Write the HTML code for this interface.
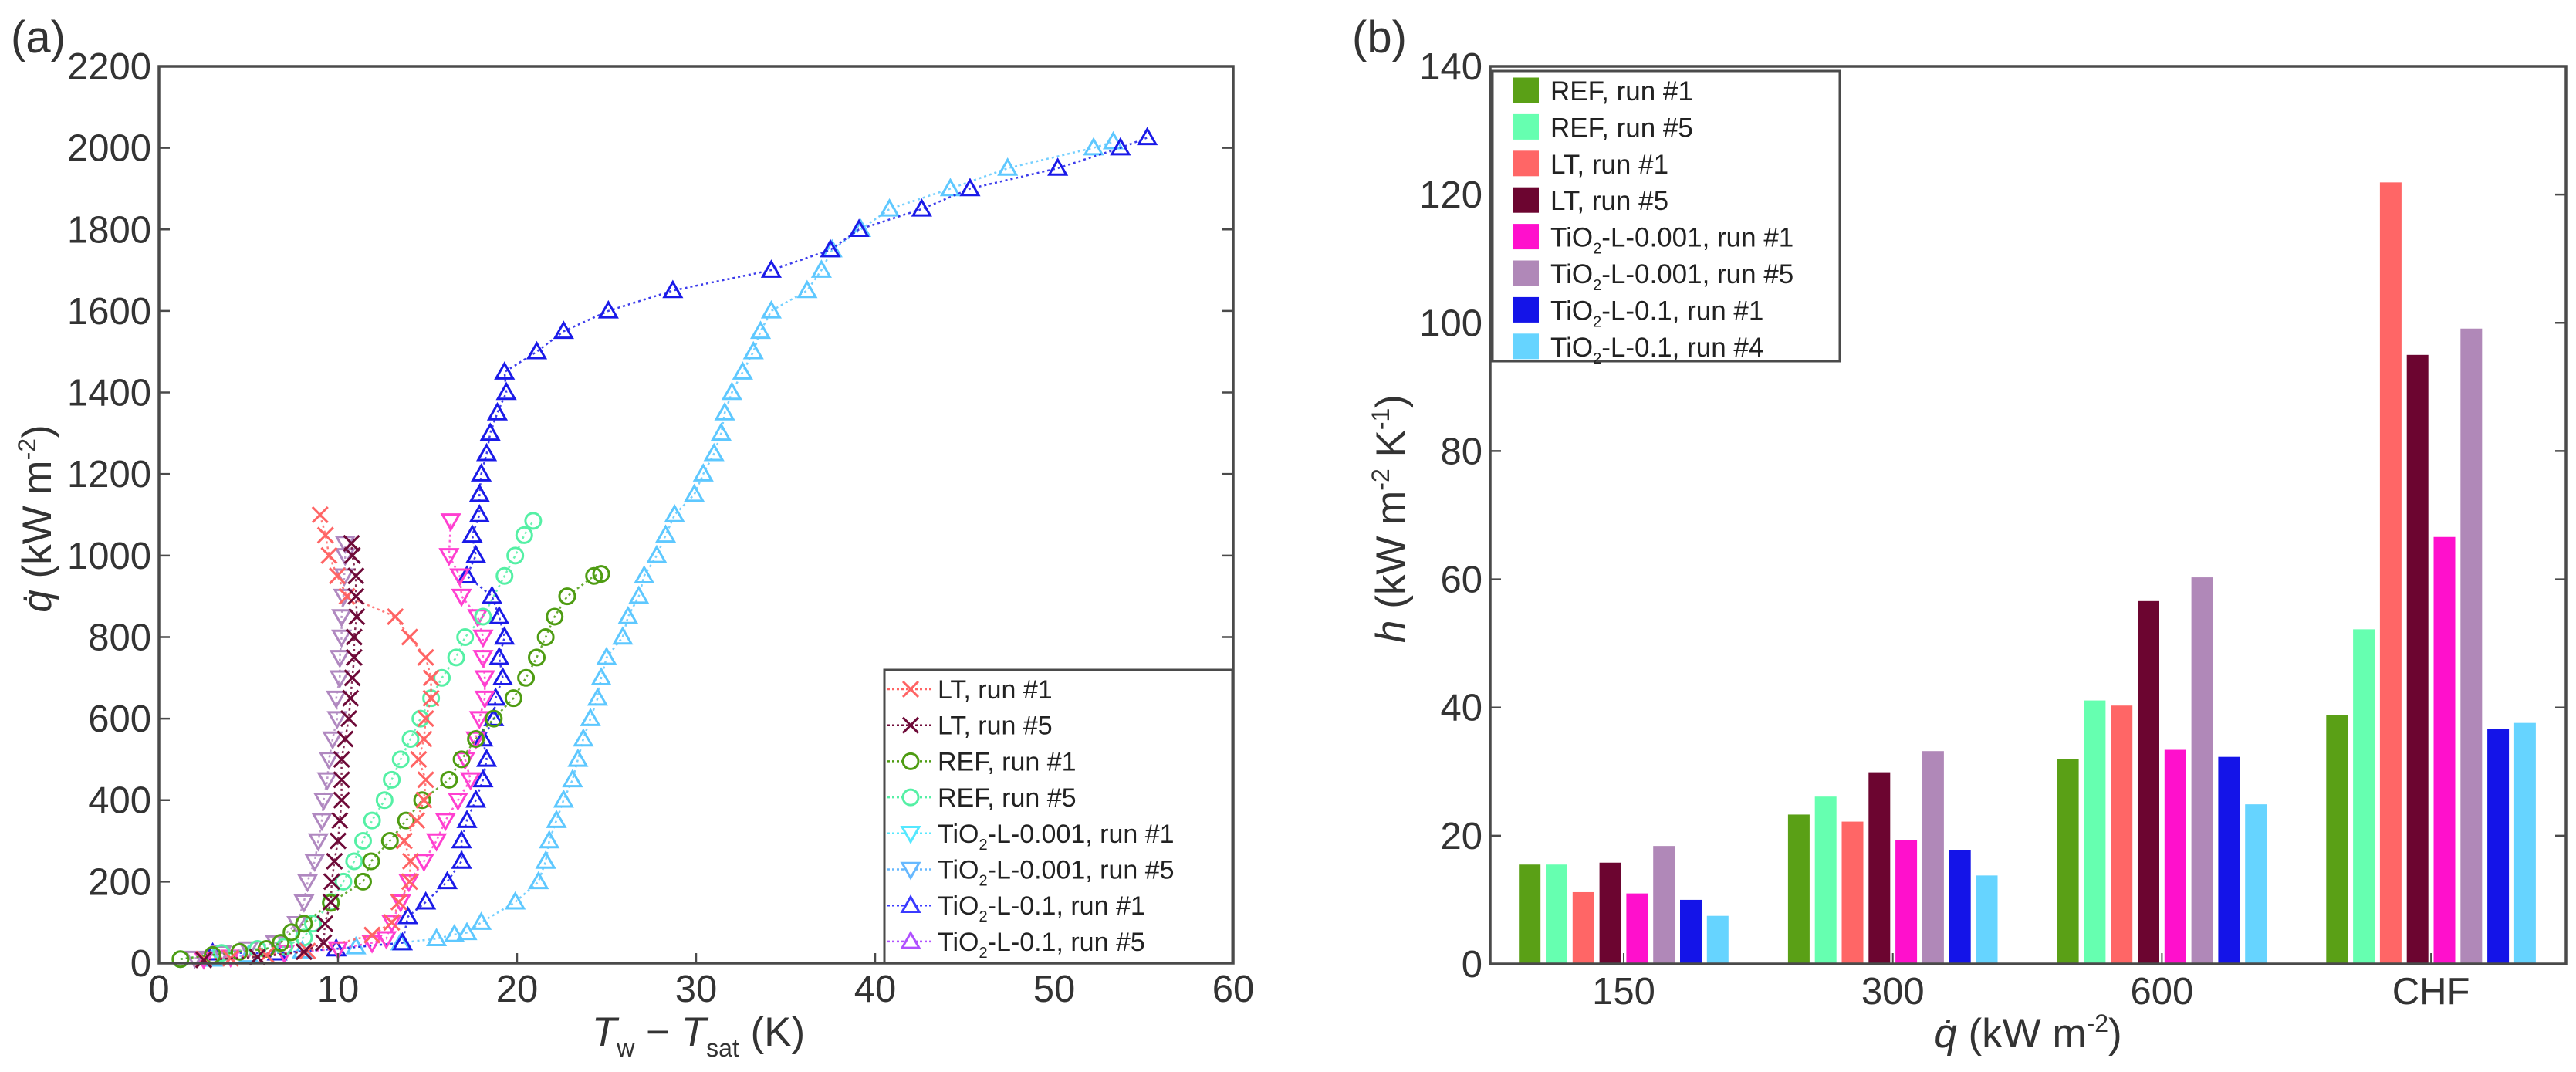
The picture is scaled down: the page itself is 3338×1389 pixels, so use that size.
<!DOCTYPE html>
<html><head><meta charset="utf-8"><style>
html,body{margin:0;padding:0;background:#fff;}
svg{display:block;font-family:"Liberation Sans",Arial,sans-serif;}
</style></head><body>
<svg id="fig" xmlns="http://www.w3.org/2000/svg" width="3338" height="1389" viewBox="0 0 3338 1389">
<rect x="0" y="0" width="3338" height="1389" fill="#fff"/>
<g id="panelA"></g>
<g id="panelB"></g>
</svg>
<script>
// ---------- Panel (a) data ----------
const ltRun1X = [2.5,4,6,8.3,11.9,13.0,13.4,14.0,14.05,13.7,14.4,14.8,14.9,14.5,14.8,14.9,15.2,15.2,14.9,14.0,13.2,10.5,9.96,9.5,9.3,9.0];
const ltRun1Q = [10,12,20,30,69,100,150,200,250,300,350,400,450,500,550,600,650,700,750,800,850,900,950,1000,1050,1100];
const ltRun5X = [2.5,5.5,8.1,9.2,9.27,9.6,9.65,9.8,10.0,10.1,10.2,10.2,10.2,10.4,10.6,10.7,10.8,10.9,10.9,11.05,11.0,11.0,10.8,10.75];
const ltRun5Q = [8,15,28,50,97,150,200,250,300,350,400,450,500,550,600,650,700,750,800,850,900,950,1000,1030];
const refRun1X = [1.2,3,4.5,6,6.8,7.4,8.1,9.6,11.4,11.85,12.9,13.8,14.7,16.2,16.9,17.7,18.7,19.8,20.5,21.1,21.6,22.1,22.8,24.3,24.7];
const refRun1Q = [10,20,28,35,50,76,97,148,200,250,300,350,400,450,500,550,600,650,700,750,800,850,900,950,955];
const refRun5X = [1.2,3.5,5.5,7,8.1,8.6,9.6,10.3,10.9,11.4,11.9,12.6,13.0,13.5,14.05,14.6,15.2,15.8,16.6,17.1,18.1,19.3,19.9,20.4,20.9];
const refRun5Q = [10,25,35,40,63,97,150,200,250,300,350,400,450,500,550,600,650,700,750,800,850,950,1000,1050,1085];
const ti001r1X = [2.5,4,7,10,11.9,12.7,13.0,13.5,13.96,14.8,15.5,16.0,16.7,17.4,17.1,17.7,17.9,18.2,18.2,18.1,18.1,17.8,16.9,16.8,16.2,16.3];
const ti001r1Q = [10,15,25,35,50,60,100,150,200,250,300,350,400,450,500,550,600,650,700,750,800,850,900,950,1000,1085];
const ti001r5X = [2,3.5,5,6.5,7.7,8.1,8.3,8.7,8.9,9.1,9.2,9.4,9.5,9.7,9.95,9.9,10.1,10.1,10.2,10.2,10.3,10.35,10.4,10.4];
const ti001r5Q = [12,25,35,50,97,150,200,250,300,350,400,450,500,550,600,650,700,750,800,850,900,950,1000,1030];
const ti01r1X = [3.0,6.6,9.9,13.6,13.9,14.9,16.1,16.9,16.9,17.2,17.7,18.1,18.3,18.1,18.7,18.8,19.2,19.0,19.3,19.0,18.6,17.2,17.7,17.5,17.9,17.9,18.0,18.3,18.5,18.9,19.4,19.3,21.1,22.6,25.1,28.7,34.2,37.5,39.1,42.6,45.3,50.2,53.7,55.2];
const ti01r1Q = [25,25,35,50,114,150,200,250,300,350,400,450,500,550,600,650,700,750,800,850,900,950,1000,1050,1100,1150,1200,1250,1300,1350,1400,1450,1500,1550,1600,1650,1700,1750,1800,1850,1900,1950,2000,2025];
const ti01r4X = [3,5,8,11,13.5,15.5,16.5,17.2,18.0,19.9,21.2,21.6,21.8,22.2,22.6,23.1,23.4,23.7,24.1,24.5,24.7,25.0,25.9,26.2,26.8,27.1,27.8,28.3,28.8,29.9,30.4,31.0,31.4,31.6,32.0,32.6,33.2,33.6,34.2,36.2,37.0,37.6,39.2,40.8,44.2,47.4,52.2,53.3];
const ti01r4Q = [10,20,30,40,50,60,70,75,100,150,200,250,300,350,400,450,500,550,600,650,700,750,800,850,900,950,1000,1050,1100,1150,1200,1250,1300,1350,1400,1450,1500,1550,1600,1650,1700,1750,1800,1850,1900,1950,2000,2015];
const xTicksA = [0,10,20,30,40,50,60];
const yTicksA = [0,200,400,600,800,1000,1200,1400,1600,1800,2000,2200];

// ---------- Panel (b) data ----------
const categoriesB = ["150","300","600","CHF"];
const seriesNamesB = ["REF, run #1","REF, run #5","LT, run #1","LT, run #5","TiO2-L-0.001, run #1","TiO2-L-0.001, run #5","TiO2-L-0.1, run #1","TiO2-L-0.1, run #4"];
const refRun1H = [15.5,23.3,32.0,38.8];
const refRun5H = [15.5,26.1,41.1,52.2];
const ltRun1H = [11.2,22.2,40.3,121.9];
const ltRun5H = [15.8,29.9,56.6,95.0];
const ti001r1H = [11.0,19.3,33.4,66.6];
const ti001r5H = [18.4,33.2,60.3,99.1];
const ti01r1H = [10.0,17.7,32.3,36.6];
const ti01r4H = [7.5,13.8,24.9,37.6];
const yTicksB = [0,20,40,60,80,100,120,140];

const NS = "http://www.w3.org/2000/svg";
function mk(tag, attrs, parent){
  const e = document.createElementNS(NS, tag);
  for (const k in attrs) e.setAttribute(k, attrs[k]);
  if (parent) parent.appendChild(e);
  return e;
}
const AX = "#4a4a4a";
const TXT = "#333";

// ================= Panel A =================
const A = document.getElementById("panelA");
const aL=206, aR=1598, aT=86, aB=1248;
const xA = v => aL + v*(aR-aL)/60;
const yA = q => aB - q*(aB-aT)/2200;

function markerPath(kind, cx, cy){
  if (kind==="x"){ const s=10; return `M${cx-s} ${cy-s}L${cx+s} ${cy+s}M${cx-s} ${cy+s}L${cx+s} ${cy-s}`; }
  if (kind==="dn"){ const s=11; return `M${cx-s} ${cy-s*0.75}L${cx+s} ${cy-s*0.75}L${cx} ${cy+s}Z`; }
  if (kind==="up"){ const s=11; return `M${cx-s} ${cy+s*0.75}L${cx+s} ${cy+s*0.75}L${cx} ${cy-s}Z`; }
  return "";
}
function drawSeries(xs, qs, color, kind, name){
  const g = mk("g", {}, A);
  
  
  let d = "";
  for (let i=0;i<xs.length;i++) d += (i?"L":"M") + xA(xs[i]).toFixed(1) + " " + yA(qs[i]).toFixed(1);
  const line = mk("path", {d:d, fill:"none", stroke:color, "stroke-width":2.5, "stroke-dasharray":"3 4", opacity:0.85}, g);
  
  
  for (let i=0;i<xs.length;i++){
    const cx = xA(xs[i]), cy = yA(qs[i]);
    let m;
    if (kind==="o") m = mk("circle", {cx:cx, cy:cy, r:10, fill:"none", stroke:color, "stroke-width":3}, g);
    else m = mk("path", {d:markerPath(kind,cx,cy), fill:"none", stroke:color, "stroke-width":3, "stroke-linejoin":"miter"}, g);
    
    
  }
}
drawSeries(ti01r4X, ti01r4Q, "#5ec8ff", "up", "tio2-0.1-run4-series");
drawSeries(ti01r1X, ti01r1Q, "#1a1ae8", "up", "tio2-0.1-run1-series");
drawSeries(ti001r1X, ti001r1Q, "#ff3fd0", "dn", "tio2-0.001-run1-series");
drawSeries(ti001r5X, ti001r5Q, "#b088c0", "dn", "tio2-0.001-run5-series");
drawSeries(refRun5X, refRun5Q, "#55f0a5", "o", "ref-run5-series");
drawSeries(refRun1X, refRun1Q, "#4e9c12", "o", "ref-run1-series");
drawSeries(ltRun1X, ltRun1Q, "#ff6464", "x", "lt-run1-series");
drawSeries(ltRun5X, ltRun5Q, "#6e0a38", "x", "lt-run5-series");

// axes box A
const boxA = mk("rect", {x:aL, y:aT, width:aR-aL, height:aB-aT, fill:"none", stroke:AX, "stroke-width":3.5}, A);


xTicksA.forEach(v=>{
  const x = xA(v);
  const t = mk("line", {x1:x, y1:aB, x2:x, y2:aB-13, stroke:AX, "stroke-width":2.5}, A);
  
  
  const lb = mk("text", {x:x, y:aB+50, "font-size":49, fill:TXT, "text-anchor":"middle"}, A);
  lb.textContent = v;
  
  
});
yTicksA.forEach(v=>{
  const y = yA(v);
  const t = mk("path", {d:`M${aL} ${y}H${aL+14}M${aR} ${y}H${aR-14}`, stroke:AX, "stroke-width":2.5}, A);
  
  
  const lb = mk("text", {x:aL-10, y:y+17, "font-size":49, fill:TXT, "text-anchor":"end"}, A);
  lb.textContent = v;
  
  
});
// Legend A
const legA = mk("g", {}, A);


mk("rect", {x:1146, y:868, width:451, height:380, fill:"#fff", stroke:AX, "stroke-width":3}, legA);
const legAItems = [
  ["LT, run #1","#ff6464","x",null],
  ["LT, run #5","#6e0a38","x",null],
  ["REF, run #1","#4e9c12","o",null],
  ["REF, run #5","#55f0a5","o",null],
  ["TiO","#55e8ff","dn","-L-0.001, run #1"],
  ["TiO","#66b8ff","dn","-L-0.001, run #5"],
  ["TiO","#3a3aff","up","-L-0.1, run #1"],
  ["TiO","#b050ff","up","-L-0.1, run #5"]
];
legAItems.forEach((it,i)=>{
  const cy = 893 + i*46.7;
  const ge = mk("g", {}, legA);
  
  
  mk("line", {x1:1150, y1:cy, x2:1208, y2:cy, stroke:it[1], "stroke-width":2.5, "stroke-dasharray":"3 3"}, ge);
  if (it[2]==="o") mk("circle", {cx:1180, cy:cy, r:10, fill:"#fff", stroke:it[1], "stroke-width":3}, ge);
  else mk("path", {d:markerPath(it[2],1180,cy), fill:"#fff", stroke:it[1], "stroke-width":3}, ge);
  const t = mk("text", {x:1215, y:cy+12, "font-size":34, fill:"#222"}, ge);
  if (it[3]===null) t.textContent = it[0];
  else {
    t.appendChild(document.createTextNode("TiO"));
    const s = mk("tspan", {"font-size":20, dy:9}, t); s.textContent = "2";
    const r = mk("tspan", {dy:-9}, t); r.textContent = it[3];
  }
});
// labels A
let lab = mk("text", {x:14, y:68, "font-size":58, fill:TXT}, A); lab.textContent = "(a)";
 
let xt = mk("text", {x:905, y:1355, "font-size":53, fill:TXT, "text-anchor":"middle"}, A);
 
xt.innerHTML = '<tspan font-style="italic">T</tspan><tspan font-size="32" dy="14">w</tspan><tspan dy="-14"> − </tspan><tspan font-style="italic">T</tspan><tspan font-size="32" dy="14">sat</tspan><tspan dy="-14"> (K)</tspan>';
let yt = mk("text", {x:0, y:0, "font-size":53, fill:TXT, "text-anchor":"middle", transform:"translate(66,672) rotate(-90)"}, A);
 
yt.innerHTML = '<tspan font-style="italic">q\u0307</tspan> (kW m<tspan font-size="32" dy="-20">-2</tspan><tspan dy="20">)</tspan>';

// ================= Panel B =================
const B = document.getElementById("panelB");
const bL=1931, bR=3325, bT=86, bB=1249;
const yB = h => bB - h*(bB-bT)/140;
const catX = i => 2104 + i*348.7;
const barColors = ["#5aa016","#66ffb0","#ff6666","#6c0530","#ff10cc","#b088b8","#1414e8","#66d4ff"];
const seriesB = [refRun1H, refRun5H, ltRun1H, ltRun5H, ti001r1H, ti001r5H, ti01r1H, ti01r4H];
const seriesKeys = ["ref-run1","ref-run5","lt-run1","lt-run5","tio2-0.001-run1","tio2-0.001-run5","tio2-0.1-run1","tio2-0.1-run4"];
seriesB.forEach((vals,j)=>{
  vals.forEach((h,i)=>{
    const cx = catX(i) + (j-3.5)*34.8;
    const r = mk("rect", {x:cx-14, y:yB(h), width:28, height:bB-yB(h), fill:barColors[j]}, B);
    
    
  });
});
const boxB = mk("rect", {x:bL, y:bT, width:bR-bL, height:bB-bT, fill:"none", stroke:AX, "stroke-width":3.5}, B);


yTicksB.forEach(v=>{
  const y = yB(v);
  const t = mk("path", {d:`M${bL} ${y}H${bL+14}M${bR} ${y}H${bR-14}`, stroke:AX, "stroke-width":2.5}, B);
  
  
  const lb = mk("text", {x:bL-10, y:y+17, "font-size":49, fill:TXT, "text-anchor":"end"}, B);
  lb.textContent = v;
  
  
});
categoriesB.forEach((c,i)=>{
  const x = catX(i);
  const t = mk("line", {x1:x, y1:bB, x2:x, y2:bB-14, stroke:AX, "stroke-width":2}, B);
  
  
  const lb = mk("text", {x:x, y:bB+52, "font-size":49, fill:TXT, "text-anchor":"middle"}, B);
  lb.textContent = c;
  
  
});
// legend B
const legB = mk("g", {}, B);


mk("rect", {x:1934, y:92, width:450, height:376, fill:"#fff", stroke:AX, "stroke-width":3}, legB);
seriesNamesB.forEach((nm,j)=>{
  const cy = 117 + j*47.4;
  const ge = mk("g", {}, legB);
  
  
  mk("rect", {x:1961, y:cy-16.5, width:33, height:33, fill:barColors[j]}, ge);
  const t = mk("text", {x:2009, y:cy+13, "font-size":35, fill:"#222"}, ge);
  if (nm.startsWith("TiO2")) {
    t.appendChild(document.createTextNode("TiO"));
    const s = mk("tspan", {"font-size":20, dy:9}, t); s.textContent = "2";
    const r = mk("tspan", {dy:-9}, t); r.textContent = nm.slice(4);
  } else t.textContent = nm;
});
lab = mk("text", {x:1752, y:68, "font-size":58, fill:TXT}, B); lab.textContent = "(b)";
 
xt = mk("text", {x:2628, y:1357, "font-size":53, fill:TXT, "text-anchor":"middle"}, B);
 
xt.innerHTML = '<tspan font-style="italic">q\u0307</tspan> (kW m<tspan font-size="32" dy="-20">-2</tspan><tspan dy="20">)</tspan>';
yt = mk("text", {x:0, y:0, "font-size":53, fill:TXT, "text-anchor":"middle", transform:"translate(1820,672) rotate(-90)"}, B);
 
yt.innerHTML = '<tspan font-style="italic">h</tspan> (kW m<tspan font-size="32" dy="-20">-2</tspan><tspan dy="20"> K</tspan><tspan font-size="32" dy="-20">-1</tspan><tspan dy="20">)</tspan>';
</script>
</body></html>
